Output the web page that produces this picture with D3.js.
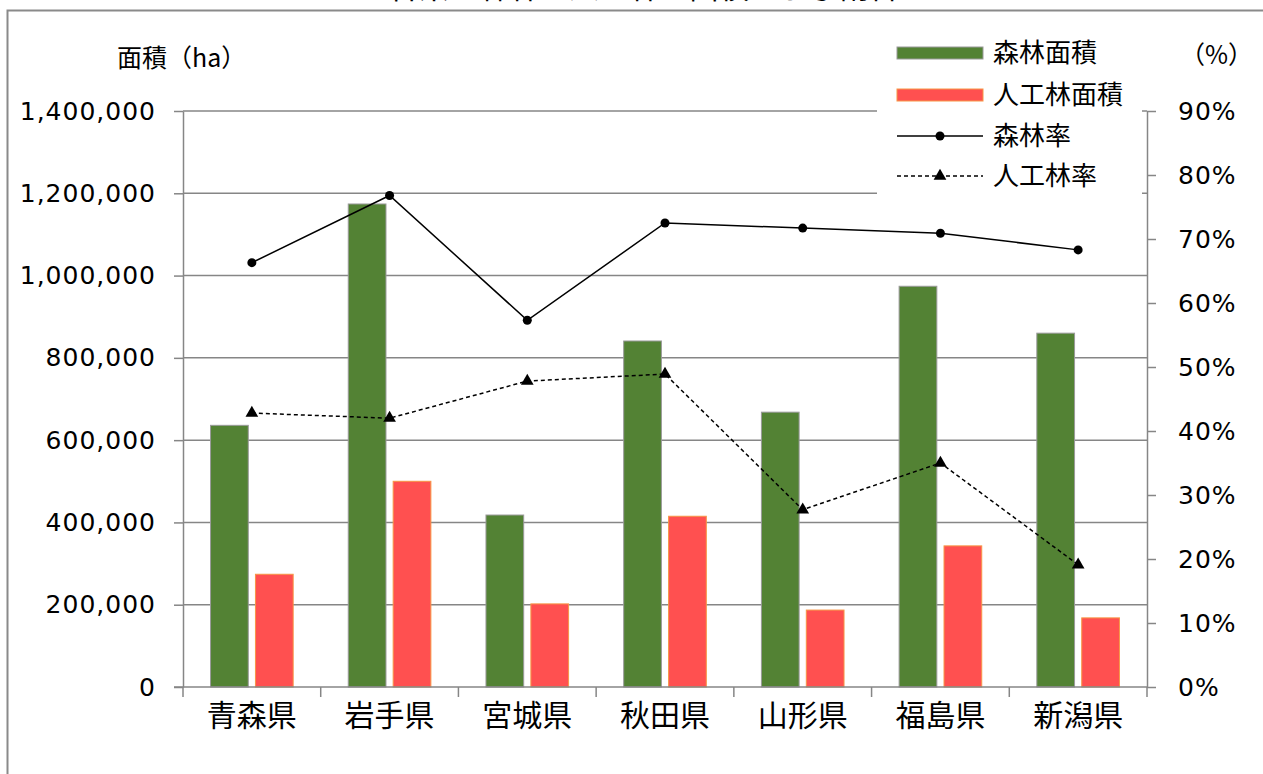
<!DOCTYPE html>
<html>
<head>
<meta charset="utf-8">
<title>各県の森林・人工林の面積および割合</title>
<script src="https://cdn.jsdelivr.net/npm/d3@7"></script>
<style>
  body { margin: 0; background: #fff; }
  svg { display: block; }
  .jp { font-family: "Noto Sans CJK JP", sans-serif; fill: #000; }
  .num { font-family: "DejaVu Sans", sans-serif; font-size: 25px; letter-spacing: 1px; fill: #000; }
  .axis path, .axis line { stroke: #868686; stroke-width: 1.5; }
  .grid line { stroke: #868686; stroke-width: 1.5; }
</style>
</head>
<body>
<svg width="1263" height="774"></svg>
<script>
// data
var prefs = ["青森県", "岩手県", "宮城県", "秋田県", "山形県", "福島県", "新潟県"];
var forestArea = [636000, 1174000, 418000, 841000, 668000, 974000, 860000];
var plantArea = [274000, 500000, 202000, 415000, 187000, 343000, 168000];
var forestRate = [0.663, 0.768, 0.573, 0.725, 0.717, 0.709, 0.683];
var plantRate = [0.428, 0.420, 0.478, 0.489, 0.277, 0.350, 0.191];
var leftTicks = [0, 200000, 400000, 600000, 800000, 1000000, 1200000, 1400000];
var rightTicks = [0, 0.1, 0.2, 0.3, 0.4, 0.5, 0.6, 0.7, 0.8, 0.9];

var svg = d3.select("svg");

var plotL = 183, plotR = 1147, plotT = 111, plotB = 687;

var x0 = d3.scaleBand().domain(prefs).range([plotL, plotR]);
var x1 = d3.scaleBand().domain(["forest", "plant"])
    .range([x0.bandwidth() * 0.2, x0.bandwidth() * 0.8])
    .paddingInner(0.16);
var y = d3.scaleLinear().domain([0, 1400000]).range([plotB, plotT]);
var yr = d3.scaleLinear().domain([0, 0.9]).range([plotB, plotT]);

// title (cut off at the top)
svg.append("text").attr("class", "jp")
    .attr("x", 644).attr("y", -2)
    .attr("text-anchor", "middle")
    .style("font-size", "30px")
    .text("各県の森林・人工林の面積および割合");

// frame
svg.append("path")
    .attr("d", "M7.5,774V10.5H1263")
    .attr("fill", "none")
    .attr("stroke", "#8a8a8a")
    .attr("stroke-width", 2);

// gridlines
svg.append("g").attr("class", "grid")
  .selectAll("line")
    .data(leftTicks.slice(1))
  .enter().append("line")
    .attr("x1", plotL).attr("x2", plotR)
    .attr("y1", function(d) { return y(d); })
    .attr("y2", function(d) { return y(d); });

// bars
var groups = svg.append("g").selectAll("g")
    .data(prefs)
  .enter().append("g")
    .attr("transform", function(d) { return "translate(" + x0(d) + ",0)"; });

groups.append("rect")
    .attr("x", x1("forest"))
    .attr("width", x1.bandwidth())
    .attr("y", function(d, i) { return y(forestArea[i]); })
    .attr("height", function(d, i) { return plotB - y(forestArea[i]); })
    .attr("fill", "#538234")
    .attr("stroke", "#9a9a9a")
    .attr("stroke-width", 1);

groups.append("rect")
    .attr("x", x1("plant"))
    .attr("width", x1.bandwidth())
    .attr("y", function(d, i) { return y(plantArea[i]); })
    .attr("height", function(d, i) { return plotB - y(plantArea[i]); })
    .attr("fill", "#ff5050")
    .attr("stroke", "#f79646")
    .attr("stroke-width", 1);

// lines
var cx = function(d, i) { return x0(prefs[i]) + x0.bandwidth() / 2; };

var line1 = d3.line().x(cx).y(function(d) { return yr(d); });

svg.append("path")
    .datum(forestRate)
    .attr("d", line1)
    .attr("fill", "none")
    .attr("stroke", "#000")
    .attr("stroke-width", 1.5);

svg.append("path")
    .datum(plantRate)
    .attr("d", line1)
    .attr("fill", "none")
    .attr("stroke", "#000")
    .attr("stroke-width", 1.5)
    .attr("stroke-dasharray", "4,3");

svg.append("g").selectAll("circle")
    .data(forestRate)
  .enter().append("circle")
    .attr("cx", cx)
    .attr("cy", function(d) { return yr(d); })
    .attr("r", 4.5)
    .attr("fill", "#000");

var tri = d3.symbol().type(d3.symbolTriangle).size(70);
svg.append("g").selectAll("path")
    .data(plantRate)
  .enter().append("path")
    .attr("d", tri)
    .attr("transform", function(d, i) { return "translate(" + cx(d, i) + "," + yr(d) + ")"; })
    .attr("fill", "#000");

// legend box (white, covers gridlines)
svg.append("rect")
    .attr("x", 877).attr("y", 30)
    .attr("width", 265).attr("height", 170)
    .attr("fill", "#fff");

// axes
var gl = svg.append("g").attr("class", "axis")
    .attr("transform", "translate(" + plotL + ",0)")
    .call(d3.axisLeft(y).tickValues(leftTicks).tickFormat(d3.format(",")).tickSize(9).tickPadding(18).tickSizeOuter(0));
gl.selectAll("text").attr("class", "num").attr("fill", null);

var gr = svg.append("g").attr("class", "axis")
    .attr("transform", "translate(" + plotR + ",0)")
    .call(d3.axisRight(yr).tickValues(rightTicks).tickFormat(d3.format(".0%")).tickSize(9).tickPadding(22).tickSizeOuter(0));
gr.selectAll("text").attr("class", "num").attr("fill", null);

var gb = svg.append("g").attr("class", "axis")
    .attr("transform", "translate(0," + plotB + ")")
    .call(d3.axisBottom(x0).tickSize(0).tickPadding(28));
gb.select(".domain").attr("d", "M" + (plotL - 9) + ",0H" + plotR);
gb.selectAll("text").attr("class", "jp").attr("fill", null)
    .style("font-size", "30px")
    .attr("dy", "0.35em");

// category boundary ticks
var bounds = prefs.map(function(p) { return x0(p); }).concat([plotR]);
svg.append("g").attr("class", "axis").selectAll("line")
    .data(bounds)
  .enter().append("line")
    .attr("x1", function(d) { return d; }).attr("x2", function(d) { return d; })
    .attr("y1", plotB).attr("y2", plotB + 10);

// axis titles
svg.append("text").attr("class", "jp")
    .attr("x", 117).attr("y", 58).attr("dy", "0.35em")
    .style("font-size", "25px")
    .text("面積（ha）");

svg.append("text").attr("class", "jp")
    .attr("x", 1180).attr("y", 55).attr("dy", "0.35em")
    .style("font-size", "25px")
    .text("（%）");

// legend
var legendLabels = ["森林面積", "人工林面積", "森林率", "人工林率"];
var legendY = [53, 95, 136, 176];
var lx = 897, lw = 86;

svg.append("rect").attr("x", lx).attr("y", legendY[0] - 6).attr("width", lw).attr("height", 12)
    .attr("fill", "#538234").attr("stroke", "#9a9a9a");
svg.append("rect").attr("x", lx).attr("y", legendY[1] - 6).attr("width", lw).attr("height", 12)
    .attr("fill", "#ff5050").attr("stroke", "#f79646");
svg.append("line").attr("x1", lx).attr("x2", lx + lw).attr("y1", legendY[2]).attr("y2", legendY[2])
    .attr("stroke", "#000").attr("stroke-width", 1.5);
svg.append("circle").attr("cx", lx + lw / 2).attr("cy", legendY[2]).attr("r", 4.5).attr("fill", "#000");
svg.append("line").attr("x1", lx).attr("x2", lx + lw).attr("y1", legendY[3]).attr("y2", legendY[3])
    .attr("stroke", "#000").attr("stroke-width", 1.5).attr("stroke-dasharray", "4,3");
svg.append("path").attr("d", tri)
    .attr("transform", "translate(" + (lx + lw / 2) + "," + legendY[3] + ")")
    .attr("fill", "#000");

svg.append("g").selectAll("text")
    .data(legendLabels)
  .enter().append("text")
    .attr("class", "jp")
    .attr("x", 993)
    .attr("y", function(d, i) { return legendY[i]; })
    .attr("dy", "0.35em")
    .style("font-size", "26px")
    .text(function(d) { return d; });
</script>
</body>
</html>
